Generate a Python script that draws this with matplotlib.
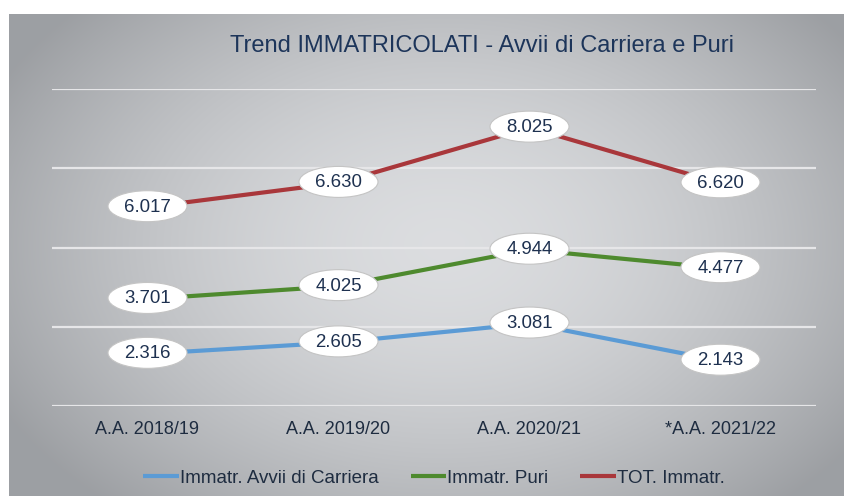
import numpy as np
import matplotlib
matplotlib.use("Agg")
import matplotlib.pyplot as plt
from matplotlib.patches import Ellipse
from matplotlib import transforms

plt.rcParams['font.family'] = ['Liberation Sans', 'DejaVu Sans']

# data
years = ["A.A. 2018/19", "A.A. 2019/20", "A.A. 2020/21", "*A.A. 2021/22"]
avvii = [2316, 2605, 3081, 2143]
puri = [3701, 4025, 4944, 4477]
totale = [6017, 6630, 8025, 6620]
series_names = ["Immatr. Avvii di Carriera", "Immatr. Puri", "TOT. Immatr."]
series_colors = ["#5B9BD5", "#4E8A2E", "#A9373B"]

TEXT_COL = "#1E3150"

fig = plt.figure(figsize=(8.45, 4.96), dpi=100)
fig.patch.set_facecolor("white")

# grey radial gradient panel
W, H = 836, 482
bg = fig.add_axes([9 / 845, 0, W / 845, H / 496])
xx, yy = np.meshgrid(np.linspace(0, 1, W), np.linspace(0, 1, H))
r = np.sqrt(((xx - 0.52) / 0.60) ** 2 + ((yy - 0.48) / 0.72) ** 2)
r = np.clip(r, 0, 1) ** 1.7
c_in = np.array([0.860, 0.866, 0.876])
c_out = np.array([0.615, 0.625, 0.64])
grad = c_in[None, None, :] * (1 - r[..., None]) + c_out[None, None, :] * r[..., None]
bg.imshow(grad, aspect="auto", extent=(0, 1, 0, 1), origin="upper")
bg.axis("off")

ax = fig.add_axes([52 / 845, (496 - 406) / 496, 764 / 845, 317 / 496])
ax.set_facecolor("none")
ax.set_xlim(-0.5, 3.5)
ax.set_ylim(1000, 9000)
ax.set_yticks([1000, 3000, 5000, 7000, 9000])
ax.yaxis.grid(True, color="#E6E6E8", lw=1.6)
ax.set_axisbelow(True)
ax.tick_params(axis="y", left=False, labelleft=False)
ax.tick_params(axis="x", bottom=False, labelsize=13, labelcolor="#1E2C40", pad=7)
for s in ax.spines.values():
    s.set_visible(False)
x = np.arange(len(years))
ax.set_xticks(x)
ax.set_xticklabels(years)

for vals, name, col in zip([avvii, puri, totale], series_names, series_colors):
    ax.plot(x, vals, color=col, lw=3, label=name, solid_capstyle="butt", zorder=2)
    for xi, v in zip(x, vals):
        lab = f"{v:,}".replace(",", ".")
        trans = fig.dpi_scale_trans + transforms.ScaledTranslation(xi, v, ax.transData)
        ax.add_patch(Ellipse((0, 0.01), 0.79, 0.31, transform=trans, fc="white",
                             ec="#C4C4C4", lw=0.8, zorder=3))
        ax.text(xi, v, lab, ha="center", va="center", fontsize=13.4, color=TEXT_COL,
                zorder=4)

ax.legend(loc="center", bbox_to_anchor=(0.5, -0.227), ncol=3, frameon=False,
          fontsize=13.5, handlelength=1.9, handletextpad=0.05, columnspacing=1.7,
          labelcolor="#1E2C40")

fig.text(482 / 845, 1 - 46 / 496, "Trend IMMATRICOLATI - Avvii di Carriera e Puri",
         ha="center", va="center", fontsize=17, color="#1D355A")

fig.savefig("out.png", dpi=100)
